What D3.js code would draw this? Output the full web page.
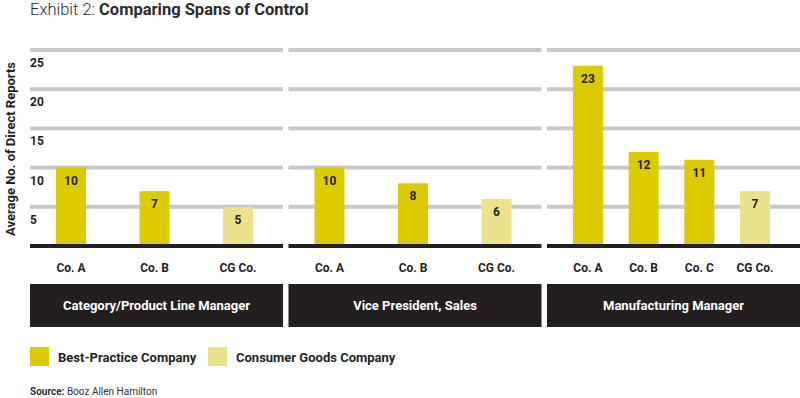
<!DOCTYPE html>
<html>
  <head>
    <meta charset="utf-8" />
    <script src="https://d3js.org/d3.v7.min.js"></script>
    <style>
      body { margin: 0; background: #fff; }
      svg { font-family: Roboto, "Open Sans", sans-serif; }
    </style>
  </head>
  <body>
    <svg id="chart"></svg>

    <script>
      var width = 800;
      var height = 398;

      const panels = ["Category/Product Line Manager", "Vice President, Sales", "Manufacturing Manager"];
      const companies = [
        ["Co. A", "Co. B", "CG Co."],
        ["Co. A", "Co. B", "CG Co."],
        ["Co. A", "Co. B", "Co. C", "CG Co."]
      ];
      const reports = [
        [10, 7, 5],
        [10, 8, 6],
        [23, 12, 11, 7]
      ];
      // 0 = best-practice, 1 = consumer goods
      const groups = [
        [0, 0, 1],
        [0, 0, 1],
        [0, 0, 0, 1]
      ];
      const seriesNames = ["Best-Practice Company", "Consumer Goods Company"];
      const yTicks = [5, 10, 15, 20, 25];

      const colors = ["#dccb00", "#ece28e"];
      const dark = "#231f20";
      const gridColor = "#c8c9ca";

      var svg = d3.select("#chart").attr("width", width).attr("height", height);

      // panels across the page
      var xPanel = d3.scaleBand()
        .domain(panels)
        .range([30, 800])
        .paddingInner(0.021);

      var y = d3.scaleLinear().domain([0, 25]).range([246, 50]);

      // title
      var title = svg.append("text")
        .attr("x", 30)
        .attr("y", 15)
        .attr("font-size", 16.5)
        .attr("fill", "#2b2b2b");
      title.append("tspan").attr("font-weight", 300).text("Exhibit 2: ");
      title.append("tspan").attr("font-weight", "bold").text("Comparing Spans of Control");

      // y axis title
      svg.append("text")
        .attr("transform", "translate(15,149) rotate(-90)")
        .attr("text-anchor", "middle")
        .attr("font-size", 13)
        .attr("font-weight", "bold")
        .attr("fill", dark)
        .text("Average No. of Direct Reports");

      panels.forEach(function (panel, i) {
        var x0 = xPanel(panel);
        var x1 = x0 + xPanel.bandwidth();
        var g = svg.append("g");

        // grid bands
        g.selectAll("rect.grid")
          .data(yTicks)
          .join("rect")
          .attr("class", "grid")
          .attr("x", x0)
          .attr("width", x1 - x0)
          .attr("y", (d) => y(d) - 2)
          .attr("height", 4)
          .attr("fill", gridColor);

        var x = d3.scalePoint()
          .domain(companies[i])
          .range([x0 + 41, x1 - 45]);

        var rows = companies[i].map((c, j) => ({ company: c, value: reports[i][j], group: groups[i][j] }));

        g.selectAll("rect.bar")
          .data(rows)
          .join("rect")
          .attr("class", "bar")
          .attr("x", (d) => x(d.company) - 15)
          .attr("width", 30)
          .attr("y", (d) => y(d.value))
          .attr("height", (d) => y(0) - y(d.value))
          .attr("fill", (d) => colors[d.group]);

        g.selectAll("text.val")
          .data(rows)
          .join("text")
          .attr("class", "val")
          .attr("x", (d) => x(d.company))
          .attr("y", (d) => y(d.value) + 17)
          .attr("text-anchor", "middle")
          .attr("font-size", 12)
          .attr("font-weight", "bold")
          .attr("fill", dark)
          .text((d) => d.value);

        // baseline
        g.append("rect")
          .attr("x", x0)
          .attr("width", x1 - x0)
          .attr("y", y(0) - 2)
          .attr("height", 4)
          .attr("fill", dark);

        g.selectAll("text.co")
          .data(rows)
          .join("text")
          .attr("class", "co")
          .attr("x", (d) => x(d.company))
          .attr("y", 272)
          .attr("text-anchor", "middle")
          .attr("font-size", 12)
          .attr("font-weight", "bold")
          .attr("fill", dark)
          .text((d) => d.company);

        // dark label box
        g.append("rect")
          .attr("x", x0)
          .attr("width", x1 - x0)
          .attr("y", 284)
          .attr("height", 43)
          .attr("fill", dark);

        g.append("text")
          .attr("x", (x0 + x1) / 2)
          .attr("y", 310)
          .attr("text-anchor", "middle")
          .attr("font-size", 13)
          .attr("font-weight", "bold")
          .attr("fill", "#fff")
          .text(panel);

        // tick labels only on the first panel
        if (i === 0) {
          g.selectAll("text.tick")
            .data(yTicks)
            .join("text")
            .attr("class", "tick")
            .attr("x", 30)
            .attr("y", (d) => y(d) + 17)
            .attr("font-size", 12)
            .attr("font-weight", "bold")
            .attr("fill", dark)
            .text((d) => d);
        }
      });

      // legend
      var legendX = [30, 208];
      var legend = svg.append("g")
        .selectAll("g")
        .data(seriesNames)
        .join("g")
        .attr("transform", (d, i) => `translate(${legendX[i]},347)`);
      legend.append("rect")
        .attr("width", 19)
        .attr("height", 19)
        .attr("fill", (d, i) => colors[i]);
      legend.append("text")
        .attr("x", 28)
        .attr("y", 15)
        .attr("font-size", 13)
        .attr("font-weight", "bold")
        .attr("fill", dark)
        .text((d) => d);

      // source
      var source = svg.append("text")
        .attr("x", 30)
        .attr("y", 395)
        .attr("font-size", 10)
        .attr("fill", "#333");
      source.append("tspan").attr("font-weight", "bold").text("Source: ");
      source.append("tspan").text("Booz Allen Hamilton");
    </script>
  </body>
</html>
